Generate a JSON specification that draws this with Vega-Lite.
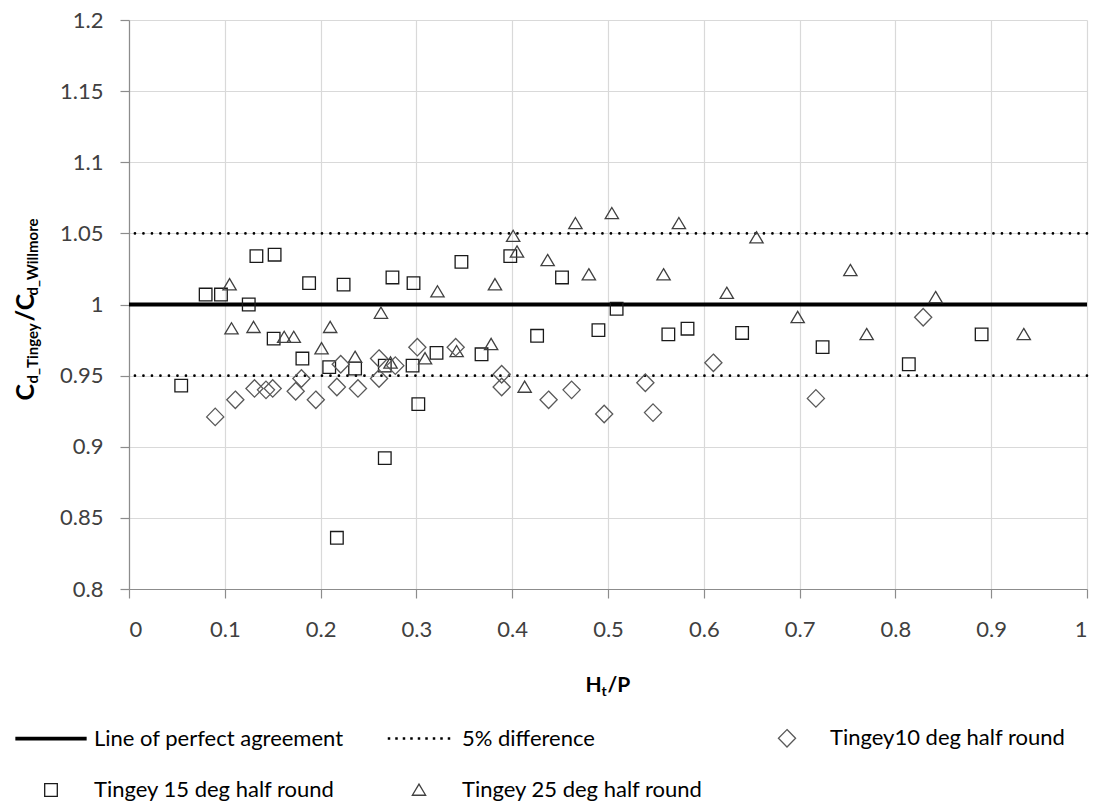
{
  "$schema": "https://vega.github.io/schema/vega-lite/v6.json",
  "width": 958,
  "height": 569,
  "autosize": {"type": "none"},
  "padding": {"left": 129, "top": 20, "right": 12, "bottom": 214},
  "background": "white",
  "config": {
    "font": "Lato",
    "view": {"stroke": null},
    "axis": {
      "labelFont": "Lato",
      "labelFontSize": 22,
      "labelColor": "#404040",
      "gridColor": "#d9d9d9",
      "gridWidth": 1.2,
      "domainColor": "#8c8c8c",
      "domainWidth": 1.2,
      "tickColor": "#8c8c8c",
      "tickWidth": 1.2,
      "tickSize": 9,
      "titleFont": "Lato",
      "titleFontWeight": "bold",
      "titleColor": "#000000"
    },
    "legend": {
      "orient": "none",
      "legendX": -114,
      "legendY": 682,
      "columns": 3,
      "gridAlign": "all",
      "columnPadding": 37,
      "rowPadding": 4,
      "padding": 0,
      "symbolSize": 4900,
      "symbolStrokeWidth": 1.3,
      "labelOffset": 7,
      "labelFont": "Lato",
      "labelFontSize": 22,
      "labelColor": "#000000",
      "labelLimit": 400
    }
  },
  "datasets": {
    "agreement": [{"ratio": 1}],
    "band": [{"ratio": 0.95}, {"ratio": 1.05}],
    "tingey15": [
      {"series": "Tingey 15 deg half round", "ht_p": 0.0545, "cd_ratio": 0.943},
      {"series": "Tingey 15 deg half round", "ht_p": 0.080, "cd_ratio": 1.007},
      {"series": "Tingey 15 deg half round", "ht_p": 0.096, "cd_ratio": 1.007},
      {"series": "Tingey 15 deg half round", "ht_p": 0.125, "cd_ratio": 1.000},
      {"series": "Tingey 15 deg half round", "ht_p": 0.133, "cd_ratio": 1.034},
      {"series": "Tingey 15 deg half round", "ht_p": 0.152, "cd_ratio": 1.035},
      {"series": "Tingey 15 deg half round", "ht_p": 0.151, "cd_ratio": 0.976},
      {"series": "Tingey 15 deg half round", "ht_p": 0.181, "cd_ratio": 0.962},
      {"series": "Tingey 15 deg half round", "ht_p": 0.188, "cd_ratio": 1.015},
      {"series": "Tingey 15 deg half round", "ht_p": 0.209, "cd_ratio": 0.956},
      {"series": "Tingey 15 deg half round", "ht_p": 0.217, "cd_ratio": 0.836},
      {"series": "Tingey 15 deg half round", "ht_p": 0.224, "cd_ratio": 1.014},
      {"series": "Tingey 15 deg half round", "ht_p": 0.236, "cd_ratio": 0.955},
      {"series": "Tingey 15 deg half round", "ht_p": 0.267, "cd_ratio": 0.957},
      {"series": "Tingey 15 deg half round", "ht_p": 0.267, "cd_ratio": 0.892},
      {"series": "Tingey 15 deg half round", "ht_p": 0.275, "cd_ratio": 1.019},
      {"series": "Tingey 15 deg half round", "ht_p": 0.296, "cd_ratio": 0.957},
      {"series": "Tingey 15 deg half round", "ht_p": 0.297, "cd_ratio": 1.015},
      {"series": "Tingey 15 deg half round", "ht_p": 0.302, "cd_ratio": 0.930},
      {"series": "Tingey 15 deg half round", "ht_p": 0.321, "cd_ratio": 0.966},
      {"series": "Tingey 15 deg half round", "ht_p": 0.347, "cd_ratio": 1.030},
      {"series": "Tingey 15 deg half round", "ht_p": 0.368, "cd_ratio": 0.965},
      {"series": "Tingey 15 deg half round", "ht_p": 0.398, "cd_ratio": 1.034},
      {"series": "Tingey 15 deg half round", "ht_p": 0.426, "cd_ratio": 0.978},
      {"series": "Tingey 15 deg half round", "ht_p": 0.452, "cd_ratio": 1.019},
      {"series": "Tingey 15 deg half round", "ht_p": 0.490, "cd_ratio": 0.982},
      {"series": "Tingey 15 deg half round", "ht_p": 0.509, "cd_ratio": 0.997},
      {"series": "Tingey 15 deg half round", "ht_p": 0.563, "cd_ratio": 0.979},
      {"series": "Tingey 15 deg half round", "ht_p": 0.583, "cd_ratio": 0.983},
      {"series": "Tingey 15 deg half round", "ht_p": 0.640, "cd_ratio": 0.980},
      {"series": "Tingey 15 deg half round", "ht_p": 0.724, "cd_ratio": 0.970},
      {"series": "Tingey 15 deg half round", "ht_p": 0.814, "cd_ratio": 0.958},
      {"series": "Tingey 15 deg half round", "ht_p": 0.890, "cd_ratio": 0.979}
    ],
    "tingey25": [
      {"series": "Tingey 25 deg half round", "ht_p": 0.105, "cd_ratio": 1.014},
      {"series": "Tingey 25 deg half round", "ht_p": 0.107, "cd_ratio": 0.983},
      {"series": "Tingey 25 deg half round", "ht_p": 0.130, "cd_ratio": 0.984},
      {"series": "Tingey 25 deg half round", "ht_p": 0.162, "cd_ratio": 0.977},
      {"series": "Tingey 25 deg half round", "ht_p": 0.172, "cd_ratio": 0.977},
      {"series": "Tingey 25 deg half round", "ht_p": 0.201, "cd_ratio": 0.969},
      {"series": "Tingey 25 deg half round", "ht_p": 0.210, "cd_ratio": 0.984},
      {"series": "Tingey 25 deg half round", "ht_p": 0.236, "cd_ratio": 0.963},
      {"series": "Tingey 25 deg half round", "ht_p": 0.263, "cd_ratio": 0.994},
      {"series": "Tingey 25 deg half round", "ht_p": 0.273, "cd_ratio": 0.959},
      {"series": "Tingey 25 deg half round", "ht_p": 0.309, "cd_ratio": 0.962},
      {"series": "Tingey 25 deg half round", "ht_p": 0.322, "cd_ratio": 1.009},
      {"series": "Tingey 25 deg half round", "ht_p": 0.342, "cd_ratio": 0.967},
      {"series": "Tingey 25 deg half round", "ht_p": 0.378, "cd_ratio": 0.972},
      {"series": "Tingey 25 deg half round", "ht_p": 0.382, "cd_ratio": 1.014},
      {"series": "Tingey 25 deg half round", "ht_p": 0.401, "cd_ratio": 1.048},
      {"series": "Tingey 25 deg half round", "ht_p": 0.405, "cd_ratio": 1.037},
      {"series": "Tingey 25 deg half round", "ht_p": 0.413, "cd_ratio": 0.942},
      {"series": "Tingey 25 deg half round", "ht_p": 0.437, "cd_ratio": 1.031},
      {"series": "Tingey 25 deg half round", "ht_p": 0.466, "cd_ratio": 1.057},
      {"series": "Tingey 25 deg half round", "ht_p": 0.480, "cd_ratio": 1.021},
      {"series": "Tingey 25 deg half round", "ht_p": 0.504, "cd_ratio": 1.064},
      {"series": "Tingey 25 deg half round", "ht_p": 0.558, "cd_ratio": 1.021},
      {"series": "Tingey 25 deg half round", "ht_p": 0.574, "cd_ratio": 1.057},
      {"series": "Tingey 25 deg half round", "ht_p": 0.624, "cd_ratio": 1.008},
      {"series": "Tingey 25 deg half round", "ht_p": 0.655, "cd_ratio": 1.047},
      {"series": "Tingey 25 deg half round", "ht_p": 0.698, "cd_ratio": 0.991},
      {"series": "Tingey 25 deg half round", "ht_p": 0.753, "cd_ratio": 1.024},
      {"series": "Tingey 25 deg half round", "ht_p": 0.770, "cd_ratio": 0.979},
      {"series": "Tingey 25 deg half round", "ht_p": 0.842, "cd_ratio": 1.005},
      {"series": "Tingey 25 deg half round", "ht_p": 0.934, "cd_ratio": 0.979}
    ],
    "tingey10": [
      {"series": "Tingey10 deg half round", "ht_p": 0.090, "cd_ratio": 0.921},
      {"series": "Tingey10 deg half round", "ht_p": 0.111, "cd_ratio": 0.933},
      {"series": "Tingey10 deg half round", "ht_p": 0.131, "cd_ratio": 0.941},
      {"series": "Tingey10 deg half round", "ht_p": 0.143, "cd_ratio": 0.940},
      {"series": "Tingey10 deg half round", "ht_p": 0.150, "cd_ratio": 0.941},
      {"series": "Tingey10 deg half round", "ht_p": 0.174, "cd_ratio": 0.939},
      {"series": "Tingey10 deg half round", "ht_p": 0.180, "cd_ratio": 0.948},
      {"series": "Tingey10 deg half round", "ht_p": 0.195, "cd_ratio": 0.933},
      {"series": "Tingey10 deg half round", "ht_p": 0.217, "cd_ratio": 0.942},
      {"series": "Tingey10 deg half round", "ht_p": 0.221, "cd_ratio": 0.958},
      {"series": "Tingey10 deg half round", "ht_p": 0.239, "cd_ratio": 0.941},
      {"series": "Tingey10 deg half round", "ht_p": 0.261, "cd_ratio": 0.962},
      {"series": "Tingey10 deg half round", "ht_p": 0.261, "cd_ratio": 0.948},
      {"series": "Tingey10 deg half round", "ht_p": 0.278, "cd_ratio": 0.957},
      {"series": "Tingey10 deg half round", "ht_p": 0.301, "cd_ratio": 0.970},
      {"series": "Tingey10 deg half round", "ht_p": 0.341, "cd_ratio": 0.970},
      {"series": "Tingey10 deg half round", "ht_p": 0.389, "cd_ratio": 0.951},
      {"series": "Tingey10 deg half round", "ht_p": 0.389, "cd_ratio": 0.942},
      {"series": "Tingey10 deg half round", "ht_p": 0.438, "cd_ratio": 0.933},
      {"series": "Tingey10 deg half round", "ht_p": 0.462, "cd_ratio": 0.940},
      {"series": "Tingey10 deg half round", "ht_p": 0.496, "cd_ratio": 0.923},
      {"series": "Tingey10 deg half round", "ht_p": 0.539, "cd_ratio": 0.945},
      {"series": "Tingey10 deg half round", "ht_p": 0.547, "cd_ratio": 0.924},
      {"series": "Tingey10 deg half round", "ht_p": 0.610, "cd_ratio": 0.959},
      {"series": "Tingey10 deg half round", "ht_p": 0.717, "cd_ratio": 0.934},
      {"series": "Tingey10 deg half round", "ht_p": 0.829, "cd_ratio": 0.991}
    ]
  },
  "resolve": {"axis": {"x": "independent", "y": "independent"}},
  "layer": [
    {
      "data": {"name": "agreement"},
      "mark": {"type": "rule", "color": "#000000", "strokeWidth": 3.8},
      "encoding": {
        "y": {
          "field": "ratio",
          "type": "quantitative",
          "scale": {"domain": [0.8, 1.2], "nice": false, "zero": false},
          "axis": {
            "orient": "left",
            "values": [0.8, 0.85, 0.9, 0.95, 1, 1.05, 1.1, 1.15, 1.2],
            "format": "~g",
            "grid": true,
            "labelPadding": 17,
            "title": "C",
            "titleFontSize": 25,
            "titleAngle": 270,
            "titleAlign": "left",
            "titleBaseline": "alphabetic",
            "titleX": -96,
            "titleY": 380
          }
        }
      }
    },
    {
      "data": {"name": "band"},
      "mark": {"type": "rule", "color": "#000000", "strokeWidth": 2.6, "strokeDash": [0.1, 8.4], "strokeCap": "round"},
      "encoding": {
        "y": {
          "field": "ratio",
          "type": "quantitative",
          "scale": {"domain": [0.8, 1.2], "nice": false, "zero": false},
          "axis": {
            "orient": "left",
            "labels": false, "ticks": false, "domain": false, "grid": false,
            "title": "d_Tingey",
            "titleFontSize": 15,
            "titleAngle": 270,
            "titleAlign": "left",
            "titleBaseline": "alphabetic",
            "titleX": -92,
            "titleY": 363
          }
        }
      }
    },
    {
      "data": {"name": "tingey15"},
      "mark": {"type": "point", "size": 4900, "strokeWidth": 1.3, "opacity": 1},
      "encoding": {
        "x": {
          "field": "ht_p",
          "type": "quantitative",
          "scale": {"domain": [0, 1], "nice": false, "zero": false},
          "axis": {
            "orient": "bottom",
            "values": [0, 0.1, 0.2, 0.3, 0.4, 0.5, 0.6, 0.7, 0.8, 0.9, 1],
            "format": "~g",
            "grid": true,
            "labelPadding": 21,
            "title": "H",
            "titleFontSize": 21,
            "titleAngle": 0,
            "titleAlign": "left",
            "titleBaseline": "alphabetic",
            "titleX": 456,
            "titleY": 102
          }
        },
        "y": {
          "field": "cd_ratio",
          "type": "quantitative",
          "scale": {"domain": [0.8, 1.2], "nice": false, "zero": false},
          "axis": {
            "orient": "left",
            "labels": false, "ticks": false, "domain": false, "grid": false,
            "title": "/C",
            "titleFontSize": 25,
            "titleAngle": 270,
            "titleAlign": "left",
            "titleBaseline": "alphabetic",
            "titleX": -96,
            "titleY": 301
          }
        },
        "shape": {
          "field": "series",
          "type": "nominal",
          "scale": {
            "domain": ["Line of perfect agreement", "Tingey 15 deg half round", "5% difference", "Tingey 25 deg half round", "Tingey10 deg half round"],
            "range": [
              "M-1,-0.035H1V0.035H-1Z",
              "M-1,0M1,0M-0.18,-0.18H0.18V0.18H-0.18Z",
              "M-1,0M1,0M-0.874,-0.017h0.034v0.034h-0.034zM-0.66,-0.017h0.034v0.034h-0.034zM-0.446,-0.017h0.034v0.034h-0.034zM-0.232,-0.017h0.034v0.034h-0.034zM-0.017,-0.017h0.034v0.034h-0.034zM0.198,-0.017h0.034v0.034h-0.034zM0.412,-0.017h0.034v0.034h-0.034zM0.626,-0.017h0.034v0.034h-0.034zM0.84,-0.017h0.034v0.034h-0.034z",
              "M-1,0M1,0M0,-0.17L0.19,0.15L-0.19,0.15Z",
              "M-1,0M1,0M0,-0.25L0.245,0L0,0.25L-0.245,0Z"
            ]
          },
          "legend": {"title": null}
        },
        "fill": {
          "field": "series",
          "type": "nominal",
          "scale": {
            "domain": ["Line of perfect agreement", "Tingey 15 deg half round", "5% difference", "Tingey 25 deg half round", "Tingey10 deg half round"],
            "range": ["#000000", "transparent", "#000000", "transparent", "transparent"]
          },
          "legend": {"title": null}
        },
        "stroke": {
          "field": "series",
          "type": "nominal",
          "scale": {
            "domain": ["Line of perfect agreement", "Tingey 15 deg half round", "5% difference", "Tingey 25 deg half round", "Tingey10 deg half round"],
            "range": ["#000000", "#1a1a1a", "#000000", "#404040", "#595959"]
          },
          "legend": {"title": null}
        }
      }
    },
    {
      "data": {"name": "tingey25"},
      "mark": {"type": "point", "size": 4900, "strokeWidth": 1.3, "opacity": 1},
      "encoding": {
        "x": {
          "field": "ht_p",
          "type": "quantitative",
          "scale": {"domain": [0, 1], "nice": false, "zero": false},
          "axis": {
            "orient": "bottom",
            "labels": false, "ticks": false, "domain": false, "grid": false,
            "title": "t",
            "titleFontSize": 14,
            "titleAngle": 0,
            "titleAlign": "left",
            "titleBaseline": "alphabetic",
            "titleX": 472,
            "titleY": 106
          }
        },
        "y": {
          "field": "cd_ratio",
          "type": "quantitative",
          "scale": {"domain": [0.8, 1.2], "nice": false, "zero": false},
          "axis": {
            "orient": "left",
            "labels": false, "ticks": false, "domain": false, "grid": false,
            "title": "d_Willmore",
            "titleFontSize": 15,
            "titleAngle": 270,
            "titleAlign": "left",
            "titleBaseline": "alphabetic",
            "titleX": -92,
            "titleY": 275
          }
        },
        "shape": {"field": "series", "type": "nominal"},
        "fill": {"field": "series", "type": "nominal"},
        "stroke": {"field": "series", "type": "nominal"}
      }
    },
    {
      "data": {"name": "tingey10"},
      "mark": {"type": "point", "size": 4900, "strokeWidth": 1.3, "opacity": 1},
      "encoding": {
        "x": {
          "field": "ht_p",
          "type": "quantitative",
          "scale": {"domain": [0, 1], "nice": false, "zero": false},
          "axis": {
            "orient": "bottom",
            "labels": false, "ticks": false, "domain": false, "grid": false,
            "title": "/P",
            "titleFontSize": 21,
            "titleAngle": 0,
            "titleAlign": "left",
            "titleBaseline": "alphabetic",
            "titleX": 478,
            "titleY": 102
          }
        },
        "y": {
          "field": "cd_ratio",
          "type": "quantitative",
          "scale": {"domain": [0.8, 1.2], "nice": false, "zero": false},
          "axis": null
        },
        "shape": {"field": "series", "type": "nominal"},
        "fill": {"field": "series", "type": "nominal"},
        "stroke": {"field": "series", "type": "nominal"}
      }
    }
  ]
}
